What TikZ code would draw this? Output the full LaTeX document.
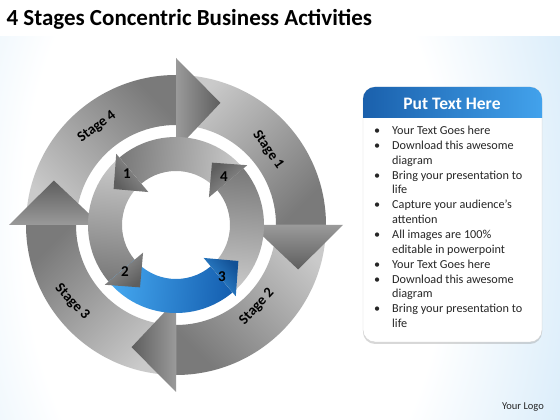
\documentclass[tikz,border=0pt]{standalone}
\usepackage{fontspec}
\setmainfont{Carlito}
\usetikzlibrary{calc,shadows}
\definecolor{bgblue}{HTML}{BFDFF6}
\definecolor{ringlight}{HTML}{CACACA}
\definecolor{ringdark}{HTML}{7A7A7A}
\definecolor{headlight}{HTML}{9A9A9A}
\definecolor{headdark}{HTML}{5E5E5E}
\definecolor{bluelight}{HTML}{45A8F0}
\definecolor{bluedark}{HTML}{155FB0}
\definecolor{boxdark}{HTML}{1A60AC}
\definecolor{boxlight}{HTML}{42A2EC}
\definecolor{listtext}{HTML}{262626}
\pgfdeclareradialshading{bgglow}{\pgfpoint{0bp}{0bp}}{color(0bp)=(white); color(14bp)=(white); color(30bp)=(bgblue); color(50bp)=(bgblue)}
\tikzset{
  ringbody/.style={top color=ringlight, bottom color=ringdark},
  ringhead/.style={top color=headlight, bottom color=headdark},
  bluebody/.style={top color=bluelight, bottom color=bluedark},
  bluehead/.style={top color=bluelight!70!bluedark, bottom color=bluedark!85!black},
  stagelabel/.style={font=\fontsize{14.5}{17}\selectfont\bfseries},
  numlabel/.style={font=\fontsize{15}{18}\selectfont\bfseries}
}

\begin{document}
\begin{tikzpicture}[x=1pt,y=1pt]
\useasboundingbox (0,0) rectangle (560,420);
\fill[white] (0,0) rectangle (560,420);
\begin{scope}
\clip (0,0) rectangle (560,383);
\shade[shading=bgglow] (235,200) ellipse[x radius=380pt, y radius=600pt];
\end{scope}
\node[anchor=west, font=\fontsize{23}{27}\selectfont\bfseries] (title) at (3,401) {4 Stages Concentric Business Activities};

% outer ring, clockwise
\begin{scope}[shift={(176,195)}]
\fill[white] (0,0) circle[radius=100pt];
\shade[ringbody, shading angle=135] (180:150pt) arc[start angle=180, end angle=90, radius=150pt] -- (90:100pt) arc[start angle=90, end angle=180, radius=100pt] -- cycle;
\shade[ringbody, shading angle=45] (90:150pt) arc[start angle=90, end angle=0, radius=150pt] -- (0:100pt) arc[start angle=0, end angle=90, radius=100pt] -- cycle;
\shade[ringbody, shading angle=-45] (0:150pt) arc[start angle=0, end angle=-90, radius=150pt] -- (-90:100pt) arc[start angle=-90, end angle=0, radius=100pt] -- cycle;
\shade[ringbody, shading angle=-135] (-90:150pt) arc[start angle=-90, end angle=-180, radius=150pt] -- (-180:100pt) arc[start angle=-180, end angle=-90, radius=100pt] -- cycle;
\shade[ringhead, shading angle=90] (90:75pt) -- (90:167pt) -- (70:130pt) -- cycle;
\shade[ringhead, shading angle=0] (0:75pt) -- (0:167pt) -- (-20:130pt) -- cycle;
\shade[ringhead, shading angle=-90] (-90:75pt) -- (-90:167pt) -- (-110:130pt) -- cycle;
\shade[ringhead, shading angle=180] (180:75pt) -- (180:167pt) -- (160:130pt) -- cycle;

% inner ring, counter clockwise
\shade[ringbody, shading angle=-95] (40:88pt) arc[start angle=40, end angle=130, radius=88pt] -- (130:54pt) arc[start angle=130, end angle=40, radius=54pt] -- cycle;
\shade[ringbody, shading angle=-5] (130:88pt) arc[start angle=130, end angle=220, radius=88pt] -- (220:54pt) arc[start angle=220, end angle=130, radius=54pt] -- cycle;
\shade[bluebody, shading angle=85] (220:88pt) arc[start angle=220, end angle=310, radius=88pt] -- (310:54pt) arc[start angle=310, end angle=220, radius=54pt] -- cycle;
\shade[ringbody, shading angle=175] (-50:88pt) arc[start angle=-50, end angle=40, radius=88pt] -- (40:54pt) arc[start angle=40, end angle=-50, radius=54pt] -- cycle;
\shade[ringhead, shading angle=-50] (130:43pt) -- (130:93pt) -- (150:72pt) -- cycle;
\shade[ringhead, shading angle=40] (-140:43pt) -- (-140:93pt) -- (-120:72pt) -- cycle;
\shade[bluehead, shading angle=130] (-50:43pt) -- (-50:93pt) -- (-30:72pt) -- cycle;
\shade[ringhead, shading angle=-140] (40:43pt) -- (40:93pt) -- (60:72pt) -- cycle;
\end{scope}

\node[stagelabel, rotate=37] (stage4) at (97,293) {Stage 4};
\node[stagelabel, rotate=-55] (stage1) at (268,270) {Stage 1};
\node[stagelabel, rotate=47] (stage2) at (257,113) {Stage 2};
\node[stagelabel, rotate=-47] (stage3) at (72,118) {Stage 3};
\node[numlabel] (n1) at (127,246) {1};
\node[numlabel] (n4) at (224,243) {4};
\node[numlabel] (n2) at (125,148) {2};
\node[numlabel] (n3) at (222,143) {3};

% text box
\fill[white, rounded corners=12pt, drop shadow={opacity=0.3, shadow xshift=0pt, shadow yshift=-2pt}] (363,78) rectangle (542,333);
\draw[gray!35, rounded corners=12pt] (363,78) rectangle (542,333);
\begin{scope}
\clip (350,302) rectangle (560,345);
\shade[left color=boxdark, right color=boxlight, rounded corners=12pt] (363,78) rectangle (542,333);
\end{scope}
\node[white, font=\fontsize{17.5}{21}\selectfont\bfseries] (boxtitle) at (452,316) {Put Text Here};
\node[anchor=north west, inner sep=0pt, text=listtext, font=\fontsize{12.2}{14.85}\selectfont] (list) at (374,296) {%
\begin{tabular}{@{}p{18pt}@{}l@{}}
\textbullet & Your Text Goes here\\
\textbullet & Download this awesome\\
 & diagram\\
\textbullet & Bring your presentation to\\
 & life\\
\textbullet & Capture your audience’s\\
 & attention\\
\textbullet & All images are 100\%\\
 & editable in powerpoint\\
\textbullet & Your Text Goes here\\
\textbullet & Download this awesome\\
 & diagram\\
\textbullet & Bring your presentation to\\
 & life
\end{tabular}};
\node[text=listtext, font=\fontsize{10.5}{12}\selectfont] (logo) at (523,13) {Your Logo};
\end{tikzpicture}
\end{document}
